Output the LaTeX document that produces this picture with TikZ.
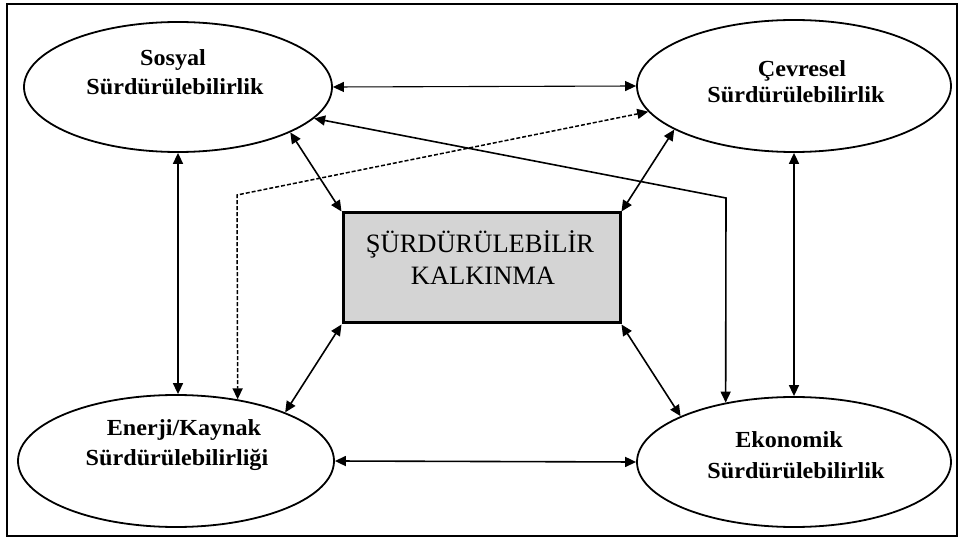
\documentclass[tikz,border=0pt]{standalone}
\usepackage{fontspec}
\setmainfont{Liberation Serif}
\newfontfamily\lblfont[FakeStretch=1.05]{Liberation Serif}
\usetikzlibrary{arrows.meta}
\definecolor{boxgray}{RGB}{212,212,212}
\tikzset{
  ell/.style={draw, line width=1.8pt, ellipse, inner sep=0pt},
  lbl/.style={anchor=base, inner sep=0pt, font=\lblfont\bfseries\fontsize{23}{27}\selectfont},
  ctr/.style={anchor=base, inner sep=0pt, font=\fontsize{26.5}{30}\selectfont},
  core/.style={draw, line width=3pt, fill=boxgray, inner sep=0pt, minimum width=277pt, minimum height=110pt},
  link/.style={line width=1.6pt, {Triangle[length=11pt,width=10pt]}-{Triangle[length=11pt,width=10pt]}},
  thinlink/.style={line width=1.1pt, {Triangle[length=11pt,width=10pt]}-{Triangle[length=11pt,width=10pt]}},
  dlink/.style={line width=1.5pt, dash pattern=on 4pt off 2pt, {Triangle[length=11pt,width=10pt]}-{Triangle[length=11pt,width=10pt]}}
}
\usetikzlibrary{shapes.geometric}
\begin{document}
\begin{tikzpicture}[x=1pt,y=-1pt]
\useasboundingbox (0,0) rectangle (962,540);
\draw[line width=2pt] (7,4) rectangle (957,536);
% ellipses
\node[ell, minimum width=308pt, minimum height=130pt] (sos) at (178,87) {};
\node[ell, minimum width=314pt, minimum height=132pt] (cev) at (794,86) {};
\node[ell, minimum width=316pt, minimum height=132pt] (enr) at (176,461) {};
\node[ell, minimum width=314pt, minimum height=130pt] (eko) at (794,462) {};
% centre
\node[core] (kal) at (481.5,268) {};
% labels
\node[lbl] (sosA) at (173,66) {Sosyal};
\node[lbl] (sosB) at (175,95) {Sürdürülebilirlik};
\node[lbl] (cevA) at (802,77) {Çevresel};
\node[lbl] (cevB) at (796,103) {Sürdürülebilirlik};
\node[lbl] (enrA) at (184,435) {Enerji/Kaynak};
\node[lbl] (enrB) at (177,465) {Sürdürülebilirliği};
\node[lbl] (ekoA) at (789,447) {Ekonomik};
\node[lbl] (ekoB) at (796,478) {Sürdürülebilirlik};
\node[ctr] (kalA) at (480,253) {ŞÜRDÜRÜLEBİLİR};
\node[ctr] (kalB) at (483,285) {KALKINMA};
% bends
\coordinate (bendS) at (726,198);
\coordinate (bendD) at (237,195);
% connectors
\draw[thinlink] (sos.east) -- (cev.west);
\draw[link] (enr.east) -- (eko.west);
\draw[link] (sos.south) -- (sos.south |- enr.north);
\draw[link] (cev.south) -- (eko.north);
\draw[link] (sos.-22) -- (kal.north west);
\draw[link] (cev.200) -- (kal.north east);
\draw[link] (kal.south west) -- (enr.24);
\draw[link] (kal.south east) -- (eko.158);
\draw[link] (sos.-13) -- (bendS) -- (eko.139.5);
\draw[dlink] (cev.190.7) -- (bendD) -- (enr.45.5);
\end{tikzpicture}
\end{document}
